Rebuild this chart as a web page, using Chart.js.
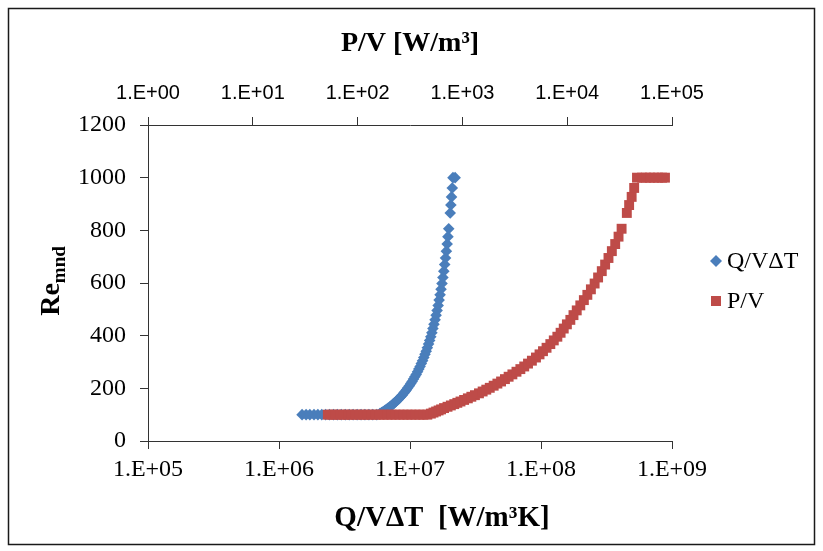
<!DOCTYPE html>
<html>
<head>
<meta charset="utf-8">
<title>Re vs Q/VΔT and P/V</title>
<script src="https://cdn.jsdelivr.net/npm/chart.js@4.4.0/dist/chart.umd.min.js"></script>
<style>
  html, body { margin: 0; padding: 0; background: #fff; }
  canvas { display: block; }
</style>
</head>
<body>
<canvas id="chart" width="823" height="551"></canvas>
<script>
// Reynolds numbers shared by both series on the rising branch
const reCurve = [104, 108, 112, 116, 120, 125, 130, 135, 140, 145, 150, 156, 162, 168, 174, 181, 188, 195, 202, 210,
  218, 226, 235, 244, 253, 263, 273, 283, 294, 305, 317, 329, 341, 354, 368, 382, 396, 411, 427, 443,
  460, 478, 496, 515, 535, 555, 576, 598, 621, 645, 670, 695, 721, 748, 776, 806, 866, 896, 927, 961, 1000];

// Q/VΔT [W/m³K] on the rising branch
const qvdtCurve = [5.89e6, 6.07e6, 6.25e6, 6.42e6, 6.60e6, 6.82e6, 7.03e6, 7.22e6, 7.43e6, 7.62e6,
  7.82e6, 8.05e6, 8.28e6, 8.49e6, 8.71e6, 8.95e6, 9.18e6, 9.41e6, 9.63e6, 9.89e6,
  1.014e7, 1.038e7, 1.064e7, 1.089e7, 1.115e7, 1.142e7, 1.168e7, 1.194e7, 1.220e7, 1.247e7,
  1.275e7, 1.302e7, 1.329e7, 1.356e7, 1.386e7, 1.413e7, 1.441e7, 1.469e7, 1.496e7, 1.524e7,
  1.554e7, 1.582e7, 1.610e7, 1.640e7, 1.668e7, 1.697e7, 1.725e7, 1.755e7, 1.783e7, 1.812e7,
  1.840e7, 1.867e7, 1.895e7, 1.922e7, 1.948e7, 1.975e7, 2.028e7, 2.051e7, 2.075e7, 2.102e7, 2.128e7];

// P/V [W/m³] on the rising branch
const pvCurve = [500, 530, 561, 593, 626, 668, 721, 776, 836, 895,
  959, 1038, 1127, 1217, 1318, 1439, 1560, 1690, 1824, 1988,
  2157, 2339, 2547, 2761, 2999, 3281, 3573, 3890, 4227, 4603,
  5035, 5445, 5875, 6353, 6902, 7447, 8054, 8650, 9268, 9931,
  10715, 11482, 12331, 13335, 14420, 15570, 16830, 18270, 19720, 21380,
  23010, 24770, 26670, 28710, 30900, 33040, 37070, 38990, 41210, 43550, 46340];

// Points held at the lower Reynolds limit
const reLow = 100;
const qvdtLow = [1.50e6, 1.61e6, 1.72e6, 1.85e6, 1.98e6, 2.12e6, 2.27e6, 2.43e6, 2.61e6, 2.79e6,
  2.99e6, 3.21e6, 3.44e6, 3.68e6, 3.95e6, 4.23e6, 4.53e6, 4.86e6, 5.20e6, 5.58e6];
const pvLow = [52, 57, 62, 68, 74, 81, 88, 96, 105, 114, 125, 136, 149, 162, 177, 193, 211, 230, 251, 274,
  299, 326, 356, 389, 424, 463];

// Points held at the upper Reynolds limit
const reHigh = 1000;
const qvdtHigh = [2.21e7];
const pvHigh = [51760, 56480, 61660, 67300, 73460, 80300, 85700];

// Axis ticks and their labels
const yTicks = [0, 200, 400, 600, 800, 1000, 1200];
const qvdtTicks = [1e5, 1e6, 1e7, 1e8, 1e9];
const qvdtTickLabels = ['1.E+05', '1.E+06', '1.E+07', '1.E+08', '1.E+09'];
const pvTicks = [1e0, 1e1, 1e2, 1e3, 1e4, 1e5];
const pvTickLabels = ['1.E+00', '1.E+01', '1.E+02', '1.E+03', '1.E+04', '1.E+05'];

const seriesNames = ['Q/VΔT', 'P/V'];
const bottomTitle = 'Q/VΔT  [W/m³K]';
const topTitle = 'P/V [W/m³]';

const blue = '#4A7EBB';
const red = '#BE4B48';
const axisColor = '#333333';
const serif = "'Liberation Serif', 'Times New Roman', serif";
const sans = "'Liberation Sans', Arial, sans-serif";

const qvdtPoints = []
  .concat(qvdtLow.map(v => ({ x: v, y: reLow })))
  .concat(reCurve.map((r, i) => ({ x: qvdtCurve[i], y: r })))
  .concat(qvdtHigh.map(v => ({ x: v, y: reHigh })));

const pvPoints = []
  .concat(pvLow.map(v => ({ x: v, y: reLow })))
  .concat(reCurve.map((r, i) => ({ x: pvCurve[i], y: r })))
  .concat(pvHigh.map(v => ({ x: v, y: reHigh })));

function fixedTicks(values) {
  return function (scale) { scale.ticks = values.map(v => ({ value: v })); };
}
function labelFrom(values, labels) {
  return function (value) {
    const i = values.findIndex(v => Math.abs(Math.log10(v) - Math.log10(value)) < 1e-6);
    return i >= 0 ? labels[i] : '';
  };
}

// Frame around the whole figure
const framePlugin = {
  id: 'frame',
  beforeDraw(chart) {
    const ctx = chart.ctx;
    ctx.save();
    ctx.fillStyle = '#fff';
    ctx.fillRect(0, 0, chart.width, chart.height);
    ctx.strokeStyle = '#1a1a1a';
    ctx.lineWidth = 1.5;
    ctx.strokeRect(8.5, 8.5, 806, 536);
    ctx.restore();
  }
};

// Rotated y-axis title with subscript, and the bottom axis title
const titlesPlugin = {
  id: 'titles',
  afterDraw(chart) {
    const ctx = chart.ctx;
    ctx.save();
    ctx.fillStyle = '#000';

    ctx.font = 'bold 29px ' + serif;
    ctx.textAlign = 'center';
    ctx.textBaseline = 'middle';
    ctx.fillText(bottomTitle, 442, 519);

    const cy = 281;
    ctx.translate(59, cy);
    ctx.rotate(-Math.PI / 2);
    ctx.textBaseline = 'alphabetic';
    ctx.textAlign = 'left';
    const main = 'Re', sub = 'mnd';
    const mainFont = 'bold 28px ' + serif;
    const subFont = 'bold 19px ' + serif;
    ctx.font = mainFont;
    const w1 = ctx.measureText(main).width;
    ctx.font = subFont;
    const w2 = ctx.measureText(sub).width;
    const x0 = -(w1 + w2) / 2;
    ctx.font = mainFont;
    ctx.fillText(main, x0, 0);
    ctx.font = subFont;
    ctx.fillText(sub, x0 + w1, 6);
    ctx.restore();
  }
};

// Legend at the right of the plot
const legendPlugin = {
  id: 'sideLegend',
  afterDraw(chart) {
    const ctx = chart.ctx;
    ctx.save();
    ctx.font = '24px ' + serif;
    ctx.textBaseline = 'middle';
    ctx.textAlign = 'left';
    const dx = 716, dy = 261, r = 6;
    ctx.fillStyle = blue;
    ctx.beginPath();
    ctx.moveTo(dx, dy - r); ctx.lineTo(dx + r, dy); ctx.lineTo(dx, dy + r); ctx.lineTo(dx - r, dy);
    ctx.closePath(); ctx.fill();
    ctx.fillStyle = '#000';
    ctx.fillText(seriesNames[0], 727, dy + 1);
    const sx = 716, sy = 301, s = 5;
    ctx.fillStyle = red;
    ctx.fillRect(sx - s, sy - s, 2 * s, 2 * s);
    ctx.fillStyle = '#000';
    ctx.fillText(seriesNames[1], 727, sy + 1);
    ctx.restore();
  }
};

new Chart(document.getElementById('chart'), {
  type: 'scatter',
  data: {
    datasets: [
      {
        label: seriesNames[0],
        data: qvdtPoints,
        xAxisID: 'x',
        yAxisID: 'y',
        pointStyle: 'rectRot',
        pointRadius: 5.8,
        pointBackgroundColor: blue,
        pointBorderColor: blue,
        pointBorderWidth: 0,
        order: 2
      },
      {
        label: seriesNames[1],
        data: pvPoints,
        xAxisID: 'x2',
        yAxisID: 'y',
        pointStyle: 'rect',
        pointRadius: 7,
        pointBackgroundColor: red,
        pointBorderColor: red,
        pointBorderWidth: 0,
        order: 1
      }
    ]
  },
  options: {
    responsive: false,
    animation: false,
    events: [],
    layout: { padding: { left: 0, right: 151, top: 0, bottom: 0 } },
    plugins: { legend: { display: false }, tooltip: { enabled: false } },
    scales: {
      x: {
        type: 'logarithmic',
        position: 'bottom',
        min: 1e5,
        max: 1e9,
        afterBuildTicks: fixedTicks(qvdtTicks),
        afterFit(s) { s.height = 110; },
        ticks: {
          callback: labelFrom(qvdtTicks, qvdtTickLabels),
          font: { family: serif, size: 24 },
          color: '#000',
          padding: 6,
          maxRotation: 0,
          autoSkip: false
        },
        grid: { drawOnChartArea: false, drawTicks: true, tickLength: 8, tickColor: axisColor, tickWidth: 1 },
        border: { color: axisColor, width: 1 }
      },
      x2: {
        type: 'logarithmic',
        position: 'top',
        min: 1e0,
        max: 1e5,
        afterBuildTicks: fixedTicks(pvTicks),
        afterFit(s) { s.height = 125; },
        ticks: {
          callback: labelFrom(pvTicks, pvTickLabels),
          font: { family: sans, size: 20 },
          color: '#000',
          padding: 12,
          maxRotation: 0,
          autoSkip: false
        },
        grid: { drawOnChartArea: false, drawTicks: true, tickLength: 8, tickColor: axisColor, tickWidth: 1 },
        border: { color: axisColor, width: 1 },
        title: {
          display: true,
          text: topTitle,
          font: { family: serif, size: 28, weight: 'bold' },
          color: '#000',
          padding: { top: 27, bottom: 0 }
        }
      },
      y: {
        type: 'linear',
        position: 'left',
        min: 0,
        max: 1200,
        afterBuildTicks: fixedTicks(yTicks),
        afterFit(s) { s.width = 148; },
        ticks: {
          callback: v => String(v),
          font: { family: serif, size: 24 },
          color: '#000',
          padding: 14
        },
        grid: { drawOnChartArea: false, drawTicks: true, tickLength: 8, tickColor: axisColor, tickWidth: 1 },
        border: { color: axisColor, width: 1 }
      }
    }
  },
  plugins: [framePlugin, titlesPlugin, legendPlugin]
});
</script>
</body>
</html>
